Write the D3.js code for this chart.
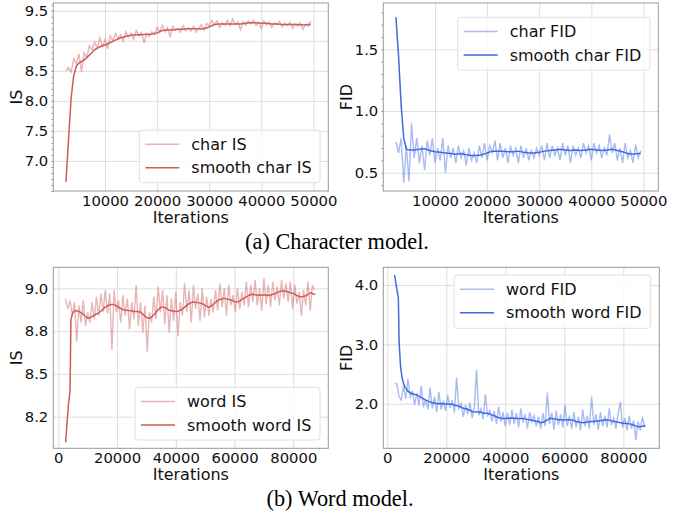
<!DOCTYPE html>
<html>
<head>
<meta charset="utf-8">
<script src="https://cdn.jsdelivr.net/npm/d3@7"></script>
<style>
  body { margin: 0; background: #fff; }
  svg { display: block; }
  text { font-family: "DejaVu Sans", sans-serif; }
</style>
</head>
<body>
<svg id="vis"></svg>
<script>
(function() {
  var width = 673, height = 518;

  // ---- data ----
  var charStart = 2500, charStep = 500;
  var charRawIS = [8.50, 8.55, 8.48, 8.70, 8.62, 8.78, 8.48, 8.80, 8.72, 8.92, 8.85, 8.98, 8.88, 9.05, 8.90, 9.02,
    8.86, 9.08, 9.00, 9.12, 9.03, 9.10, 8.99, 9.15, 9.06, 9.12, 9.02, 9.17, 9.08, 9.14, 8.96, 9.12, 9.07, 9.15,
    9.10, 9.22, 9.14, 9.26, 9.15, 9.22, 9.06, 9.24, 9.18, 9.20, 9.14, 9.25, 9.17, 9.22, 9.16, 9.24, 9.14, 9.20,
    9.27, 9.18, 9.29, 9.24, 9.34, 9.26, 9.33, 9.22, 9.30, 9.26, 9.34, 9.25, 9.36, 9.27, 9.31, 9.18, 9.32, 9.26,
    9.33, 9.28, 9.34, 9.25, 9.31, 9.20, 9.33, 9.26, 9.31, 9.22, 9.30, 9.27, 9.32, 9.23, 9.29, 9.25, 9.31, 9.21,
    9.28, 9.24, 9.30, 9.19, 9.27, 9.24, 9.33];
  var charSmoothIter = [2500, 3000, 3500, 4000, 4500, 5000, 6000, 7000, 8000, 9000, 10000, 11000, 12000, 13000,
    14000, 15000, 16000, 17000, 18000, 19000, 20000, 21000, 22000, 23000, 24000, 25000, 26000, 27000, 28000,
    29000, 30000, 31000, 32000, 33000, 34000, 35000, 36000, 37000, 38000, 39000, 40000, 41000, 42000, 43000,
    44000, 45000, 46000, 47000, 48000, 49000, 49500];
  var charSmoothIS = [6.65, 7.35, 8.05, 8.42, 8.58, 8.63, 8.68, 8.76, 8.85, 8.90, 8.93, 8.97, 9.01, 9.05, 9.07,
    9.09, 9.10, 9.10, 9.11, 9.11, 9.13, 9.17, 9.18, 9.18, 9.19, 9.19, 9.20, 9.20, 9.20, 9.20, 9.23, 9.27, 9.28,
    9.28, 9.28, 9.28, 9.28, 9.29, 9.30, 9.30, 9.29, 9.29, 9.28, 9.28, 9.27, 9.27, 9.27, 9.27, 9.26, 9.27, 9.27];
  var charRawFID = [0.75, 0.66, 0.78, 0.42, 0.72, 0.43, 0.90, 0.62, 0.78, 0.58, 0.72, 0.52, 0.76, 0.64, 0.78,
    0.58, 0.70, 0.60, 0.78, 0.50, 0.72, 0.62, 0.70, 0.58, 0.72, 0.62, 0.68, 0.56, 0.70, 0.60, 0.66, 0.58, 0.72,
    0.62, 0.74, 0.60, 0.72, 0.66, 0.76, 0.60, 0.74, 0.62, 0.70, 0.58, 0.72, 0.64, 0.70, 0.58, 0.72, 0.62, 0.70,
    0.60, 0.68, 0.62, 0.70, 0.64, 0.72, 0.60, 0.74, 0.62, 0.72, 0.64, 0.70, 0.60, 0.74, 0.64, 0.72, 0.58, 0.72,
    0.64, 0.70, 0.62, 0.74, 0.66, 0.72, 0.60, 0.74, 0.66, 0.72, 0.62, 0.70, 0.64, 0.81, 0.66, 0.74, 0.60, 0.70,
    0.58, 0.74, 0.62, 0.68, 0.58, 0.73, 0.62, 0.68];
  var charSmoothFID = [1.76, 1.45, 1.05, 0.78, 0.69, 0.685, 0.685, 0.69, 0.695, 0.68, 0.67, 0.665, 0.66, 0.655,
    0.65, 0.655, 0.645, 0.64, 0.64, 0.645, 0.66, 0.675, 0.675, 0.675, 0.67, 0.67, 0.675, 0.665, 0.66, 0.66,
    0.665, 0.675, 0.68, 0.685, 0.69, 0.685, 0.68, 0.685, 0.68, 0.685, 0.69, 0.685, 0.68, 0.685, 0.69, 0.68,
    0.67, 0.655, 0.65, 0.655, 0.655];

  var wordStart = 2500, wordStep = 750;
  var wordRawIS = [8.94, 8.88, 8.93, 8.84, 8.92, 8.69, 8.90, 8.80, 8.93, 8.78, 8.86, 8.80, 8.92, 8.82, 8.95,
    8.84, 8.97, 8.86, 8.99, 8.85, 8.97, 8.64, 8.99, 8.86, 8.93, 8.80, 8.96, 8.84, 8.94, 8.76, 8.92, 8.82, 9.02,
    8.78, 8.92, 8.74, 8.90, 8.63, 8.86, 8.80, 8.95, 8.82, 9.01, 8.86, 8.99, 8.79, 8.96, 8.74, 8.94, 8.81, 8.98,
    8.72, 8.92, 8.84, 9.03, 8.86, 8.99, 8.80, 9.02, 8.88, 8.97, 8.81, 9.00, 8.83, 8.95, 8.84, 8.94, 8.86, 8.99,
    8.87, 9.03, 8.89, 9.00, 8.84, 9.02, 8.90, 8.96, 8.86, 9.00, 8.88, 8.98, 8.90, 9.04, 8.89, 9.02, 8.92, 9.05,
    8.90, 9.00, 8.87, 9.06, 8.91, 9.02, 8.89, 9.04, 8.93, 9.01, 8.90, 9.05, 8.94, 9.03, 8.92, 9.04, 8.88, 9.02,
    8.91, 8.98, 8.84, 8.99, 8.90, 9.04, 8.87, 9.02, 8.99];
  var wordSmoothIterIS = [2500, 3000, 3500, 4000, 4300, 5000, 6000, 7000, 8000, 9000, 10000, 11000, 12000,
    13000, 14000, 15000, 16000, 17000, 18000, 19000, 20000, 21000, 22000, 23000, 24000, 25000, 26000, 27000,
    28000, 29000, 30000, 31000, 32000, 33000, 34000, 35000, 36000, 37000, 38000, 39000, 40000, 41000, 42000,
    43000, 44000, 45000, 46000, 47000, 48000, 49000, 50000, 51000, 52000, 53000, 54000, 55000, 56000, 57000,
    58000, 59000, 60000, 61000, 62000, 63000, 64000, 65000, 66000, 67000, 68000, 69000, 70000, 71000, 72000,
    73000, 74000, 75000, 76000, 77000, 78000, 79000, 80000, 81000, 82000, 83000, 84000, 85000, 86000, 87000, 87500];
  var wordSmoothIS = [8.10, 8.22, 8.33, 8.40, 8.82, 8.86, 8.87, 8.865, 8.855, 8.84, 8.825, 8.83, 8.84, 8.85,
    8.86, 8.875, 8.89, 8.90, 8.905, 8.905, 8.895, 8.885, 8.875, 8.872, 8.87, 8.868, 8.865, 8.865, 8.86, 8.845,
    8.83, 8.825, 8.835, 8.855, 8.875, 8.89, 8.89, 8.88, 8.87, 8.868, 8.865, 8.868, 8.875, 8.89, 8.905, 8.915,
    8.92, 8.918, 8.915, 8.91, 8.90, 8.89, 8.895, 8.91, 8.925, 8.935, 8.94, 8.94, 8.935, 8.93, 8.922, 8.92,
    8.93, 8.94, 8.95, 8.96, 8.965, 8.962, 8.96, 8.96, 8.962, 8.96, 8.958, 8.965, 8.97, 8.98, 8.985, 8.985,
    8.98, 8.975, 8.97, 8.96, 8.952, 8.95, 8.955, 8.965, 8.975, 8.965, 8.965];
  var wordRawFID = [2.34, 2.33, 2.12, 2.06, 2.30, 2.08, 2.42, 2.10, 2.22, 1.98, 2.18, 1.97, 2.30, 1.94, 2.08,
    1.90, 2.27, 1.92, 2.12, 1.86, 2.20, 1.90, 2.05, 1.88, 2.14, 1.93, 2.06, 1.85, 2.44, 1.92, 2.00, 1.78, 1.98,
    1.82, 2.02, 1.76, 1.94, 2.57, 1.80, 1.92, 1.74, 2.16, 1.78, 1.90, 1.70, 1.88, 1.66, 1.95, 1.70, 1.86, 1.62,
    1.85, 1.64, 1.90, 1.66, 1.84, 1.60, 1.92, 1.68, 1.82, 1.58, 1.86, 1.70, 1.80, 1.62, 1.78, 1.58, 1.84, 1.62,
    2.19, 1.66, 1.85, 1.56, 1.88, 1.64, 1.82, 1.60, 1.98, 1.62, 1.80, 1.58, 1.86, 1.60, 1.78, 1.55, 1.90, 1.62,
    1.80, 1.58, 2.12, 1.64, 1.82, 1.56, 1.86, 1.62, 1.80, 1.60, 1.92, 1.64, 1.76, 1.58, 1.84, 2.03, 1.60, 1.76,
    1.55, 1.80, 1.58, 1.72, 1.39, 1.70, 1.55, 1.78, 1.60];
  var wordSmoothIterFID = [2500, 3000, 3500, 3750, 4000, 4500, 5000, 5500, 6000, 7000, 8000, 9000, 10000,
    11000, 12000, 13000, 14000, 15000, 16000, 17000, 18000, 19000, 20000, 21000, 22000, 23000, 24000, 25000,
    26000, 27000, 28000, 29000, 30000, 31000, 32000, 33000, 34000, 35000, 36000, 37000, 38000, 39000, 40000,
    41000, 42000, 43000, 44000, 45000, 46000, 47000, 48000, 49000, 50000, 51000, 52000, 53000, 54000, 55000,
    56000, 57000, 58000, 59000, 60000, 61000, 62000, 63000, 64000, 65000, 66000, 67000, 68000, 69000, 70000,
    71000, 72000, 73000, 74000, 75000, 76000, 77000, 78000, 79000, 80000, 81000, 82000, 83000, 84000, 85000,
    86000, 87000, 87500];
  var wordSmoothFID = [4.17, 4.00, 3.85, 3.78, 3.05, 2.62, 2.44, 2.34, 2.28, 2.21, 2.18, 2.16, 2.15, 2.12, 2.09,
    2.06, 2.04, 2.02, 2.01, 2.00, 2.005, 2.00, 1.995, 1.99, 1.99, 1.975, 1.96, 1.94, 1.92, 1.91, 1.89, 1.865,
    1.86, 1.86, 1.85, 1.84, 1.84, 1.82, 1.80, 1.78, 1.76, 1.75, 1.75, 1.755, 1.76, 1.755, 1.75, 1.75, 1.75,
    1.74, 1.73, 1.72, 1.71, 1.70, 1.68, 1.69, 1.72, 1.75, 1.75, 1.74, 1.73, 1.73, 1.725, 1.73, 1.73, 1.72,
    1.70, 1.69, 1.68, 1.685, 1.69, 1.70, 1.70, 1.71, 1.71, 1.72, 1.73, 1.725, 1.71, 1.70, 1.69, 1.68, 1.67,
    1.665, 1.66, 1.65, 1.63, 1.61, 1.615, 1.625, 1.63];

  var charXTicks = [10000, 20000, 30000, 40000, 50000];
  var wordXTicks = [0, 20000, 40000, 60000, 80000];
  var charISTicks = [7.0, 7.5, 8.0, 8.5, 9.0, 9.5];
  var charFIDTicks = [0.5, 1.0, 1.5];
  var wordISTicks = [8.25, 8.5, 8.75, 9.0];
  var wordISTickLabels = ["8.2", "8.5", "8.8", "9.0"];
  var wordFIDTicks = [2.0, 3.0, 4.0];
  var captions = ["(a) Character model.", "(b) Word model."];

  var RED = "#cd5c5c", BLUE = "#4169e1";
  var FS = "16px", TICK_FS = "14.8px";

  function indexed(start, step, vals) {
    return vals.map(function(v, i) { return { x: start + i * step, y: v }; });
  }
  function paired(xs, vals) {
    return vals.map(function(v, i) { return { x: xs[i], y: v }; });
  }

  var panels = [
    { left: 53.3, right: 328.3, top: 3, bottom: 191, xd: [77, 52860], yd: [6.5, 9.628],
      xt: charXTicks, yt: charISTicks, ylab: null, minor: 0.1, title: "IS", color: RED,
      raw: indexed(charStart, charStep, charRawIS), smooth: paired(charSmoothIter, charSmoothIS),
      names: ["char IS", "smooth char IS"], leg: { x: 139.3, y: 130, w: 180.7, h: 52.7 } },
    { left: 383.3, right: 658.3, top: 3, bottom: 191, xd: [77, 52860], yd: [0.352, 1.875],
      xt: charXTicks, yt: charFIDTicks, ylab: null, minor: 0.1, title: "FID", color: BLUE,
      raw: indexed(charStart, charStep, charRawFID), smooth: paired(charSmoothIter, charSmoothFID),
      names: ["char FID", "smooth char FID"], leg: { x: 457.7, y: 17.3, w: 192.3, h: 52.7 } },
    { left: 53.3, right: 328.3, top: 267.3, bottom: 448.3, xd: [-1702, 91915], yd: [8.065, 9.123],
      xt: wordXTicks, yt: wordISTicks, ylab: wordISTickLabels, minor: null, title: "IS", color: RED,
      raw: indexed(wordStart, wordStep, wordRawIS), smooth: paired(wordSmoothIterIS, wordSmoothIS),
      names: ["word IS", "smooth word IS"], leg: { x: 135, y: 387.3, w: 185, h: 52.7 } },
    { left: 383.3, right: 659.3, top: 267.3, bottom: 448.3, xd: [-1356, 92200], yd: [1.248, 4.30],
      xt: wordXTicks, yt: wordFIDTicks, ylab: null, minor: null, title: "FID", color: BLUE,
      raw: indexed(wordStart, wordStep, wordRawFID), smooth: paired(wordSmoothIterFID, wordSmoothFID),
      names: ["word FID", "smooth word FID"], leg: { x: 454, y: 275, w: 196.7, h: 53.3 } }
  ];

  var chart = d3.select("#vis").attr("width", width).attr("height", height);

  panels.forEach(renderPanel);

  chart.selectAll("text.caption").data(captions).enter().append("text").attr("class", "caption")
    .attr("x", function(d, i) { return i === 0 ? 337 : 340; })
    .attr("y", function(d, i) { return i === 0 ? 249 : 506; })
    .attr("text-anchor", "middle")
    .style("font-family", "'Liberation Serif', 'Times New Roman', serif").style("font-size", "22.3px")
    .text(function(d) { return d; });

  function renderPanel(p) {
    var x = d3.scaleLinear().domain(p.xd).range([p.left, p.right]);
    var y = d3.scaleLinear().domain(p.yd).range([p.bottom, p.top]);
    var g = chart.append("g");
    var w = p.right - p.left, h = p.bottom - p.top;

    // x axis + vertical grid
    var xa = g.append("g").attr("transform", "translate(0," + p.bottom + ")")
      .call(d3.axisBottom(x).tickValues(p.xt).tickFormat(d3.format("d")).tickSize(-h).tickPadding(4));
    // y axis + horizontal grid
    var ya = g.append("g").attr("transform", "translate(" + p.left + ",0)")
      .call(d3.axisLeft(y).tickValues(p.yt).tickSize(-w).tickPadding(5)
        .tickFormat(function(d, i) { return p.ylab ? p.ylab[i] : d3.format(".1f")(d); }));
    [xa, ya].forEach(function(a) {
      a.select(".domain").remove();
      a.selectAll("line").attr("stroke", "#dddddd").attr("stroke-width", 1);
      a.selectAll("text").attr("fill", "#111").style("font-size", TICK_FS)
        .style("font-family", "'DejaVu Sans', sans-serif");
    });

    if (p.minor) {
      var mt = d3.range(Math.ceil(p.yd[0] / p.minor), Math.floor(p.yd[1] / p.minor) + 1)
        .map(function(k) { return k * p.minor; });
      g.append("g").attr("transform", "translate(" + p.left + ",0)")
        .call(d3.axisLeft(y).tickValues(mt).tickSize(2).tickFormat(""))
        .call(function(s) { s.select(".domain").remove(); s.selectAll("line").attr("stroke", "#999"); });
    }

    var line = d3.line().x(function(d) { return x(d.x); }).y(function(d) { return y(d.y); });

    g.append("path").datum(p.raw).attr("d", line).attr("fill", "none")
      .attr("stroke", p.color).attr("stroke-opacity", 0.45).attr("stroke-width", 1.4);
    g.append("path").datum(p.smooth).attr("d", line).attr("fill", "none")
      .attr("stroke", p.color).attr("stroke-width", 1.5).attr("stroke-linejoin", "round");

    // frame
    g.append("rect").attr("x", p.left).attr("y", p.top).attr("width", w).attr("height", h)
      .attr("fill", "none").attr("stroke", "#999").attr("stroke-width", 1);

    // axis titles
    g.append("text").attr("x", (p.left + p.right) / 2).attr("y", p.bottom + 31.5)
      .attr("text-anchor", "middle").style("font-size", FS).attr("fill", "#111").text("Iterations");
    g.append("text").attr("transform", "translate(" + (p.left - 31.5) + "," + ((p.top + p.bottom) / 2) + ") rotate(-90)")
      .attr("text-anchor", "middle").style("font-size", FS).attr("fill", "#111").text(p.title);

    // legend
    var L = p.leg;
    var lg = g.append("g");
    lg.append("rect").attr("x", L.x).attr("y", L.y).attr("width", L.w).attr("height", L.h)
      .attr("rx", 3).attr("fill", "#fff").attr("fill-opacity", 0.8).attr("stroke", "#e0e0e0");
    lg.selectAll("g.item").data(p.names).enter().append("g").attr("class", "item")
      .each(function(d, i) {
        var cy = L.y + 14.3 + i * 23.4;
        var it = d3.select(this);
        it.append("line").attr("x1", L.x + 6).attr("x2", L.x + 40).attr("y1", cy).attr("y2", cy)
          .attr("stroke", p.color).attr("stroke-width", 1.5)
          .attr("stroke-opacity", i === 0 ? 0.45 : 1);
        it.append("text").attr("x", L.x + 52).attr("y", cy).attr("dy", "0.35em")
          .style("font-size", FS).attr("fill", "#111").text(d);
      });
  }
}());
</script>
</body>
</html>
